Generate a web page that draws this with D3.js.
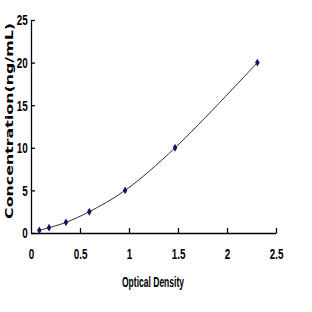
<!DOCTYPE html>
<html>
<head>
<meta charset="utf-8">
<script src="https://cdn.jsdelivr.net/npm/d3@7"></script>
<style>
  body { margin: 0; background: #fff; }
  .tick text { font-family: "Liberation Sans", Arial, sans-serif; font-weight: bold; }
</style>
</head>
<body>
<svg width="312" height="312"></svg>
<script>
// standard curve points (OD vs concentration)
var od = [0.085, 0.184, 0.357, 0.595, 0.96, 1.47, 2.31];
var conc = [0.312, 0.625, 1.25, 2.5, 5, 10, 20];
var xTicks = [0, 0.5, 1, 1.5, 2, 2.5];
var yTicks = [0, 5, 10, 15, 20, 25];

var svg = d3.select("svg");

var x = d3.scaleLinear().domain([0, 2.5]).range([31, 276]);
var y = d3.scaleLinear().domain([0, 25]).range([233, 20]);

var pts = od.map(function(d, i) { return [d, conc[i]]; });

// x axis
var gx = svg.append("g").attr("transform", "translate(0,233)")
  .call(d3.axisBottom(x).tickValues(xTicks).tickSizeInner(-5).tickSizeOuter(0).tickPadding(15)
    .tickFormat(function(d) { return d; }));
gx.selectAll("text").attr("font-size", 15).attr("fill", "#000")
  .attr("transform", "scale(0.66,1)");
gx.selectAll("line, path").attr("stroke", "#000").attr("stroke-width", 1.3);
gx.selectAll(".tick").filter(function(d) { return d === 0; }).select("line").remove();

// y axis
var gy = svg.append("g").attr("transform", "translate(31,0)")
  .call(d3.axisLeft(y).tickValues(yTicks).tickSizeInner(-4).tickSizeOuter(0).tickPadding(5));
gy.selectAll("text").attr("font-size", 15).attr("fill", "#000")
  .attr("transform", "scale(0.66,1)");
gy.selectAll("line, path").attr("stroke", "#000").attr("stroke-width", 1.3);

// fitted curve
svg.append("path")
  .datum(pts)
  .attr("fill", "none")
  .attr("stroke", "#2a2a55")
  .attr("stroke-width", 1)
  .attr("d", d3.line().curve(d3.curveCatmullRom)
    .x(function(d) { return x(d[0]); })
    .y(function(d) { return y(d[1]); }));

// markers
svg.append("g").selectAll("path")
  .data(pts)
  .enter().append("path")
  .attr("transform", function(d) { return "translate(" + x(d[0]) + "," + y(d[1]) + ")"; })
  .attr("d", d3.symbol().type(d3.symbolDiamond).size(18))
  .attr("fill", "#141466");

// titles
svg.append("text")
  .attr("x", 153).attr("y", 287)
  .attr("text-anchor", "middle")
  .attr("font-family", "'Liberation Sans', Arial, sans-serif")
  .attr("font-weight", "bold")
  .attr("font-size", 14)
  .attr("textLength", 62).attr("lengthAdjust", "spacingAndGlyphs")
  .text("Optical Density");

svg.append("text")
  .attr("transform", "translate(13,121) rotate(-90)")
  .attr("text-anchor", "middle")
  .attr("font-family", "'DejaVu Sans', sans-serif")
  .attr("font-weight", "bold")
  .attr("font-size", 10)
  .attr("textLength", 196).attr("lengthAdjust", "spacingAndGlyphs")
  .text("Concentration(ng/mL)");
</script>
</body>
</html>
